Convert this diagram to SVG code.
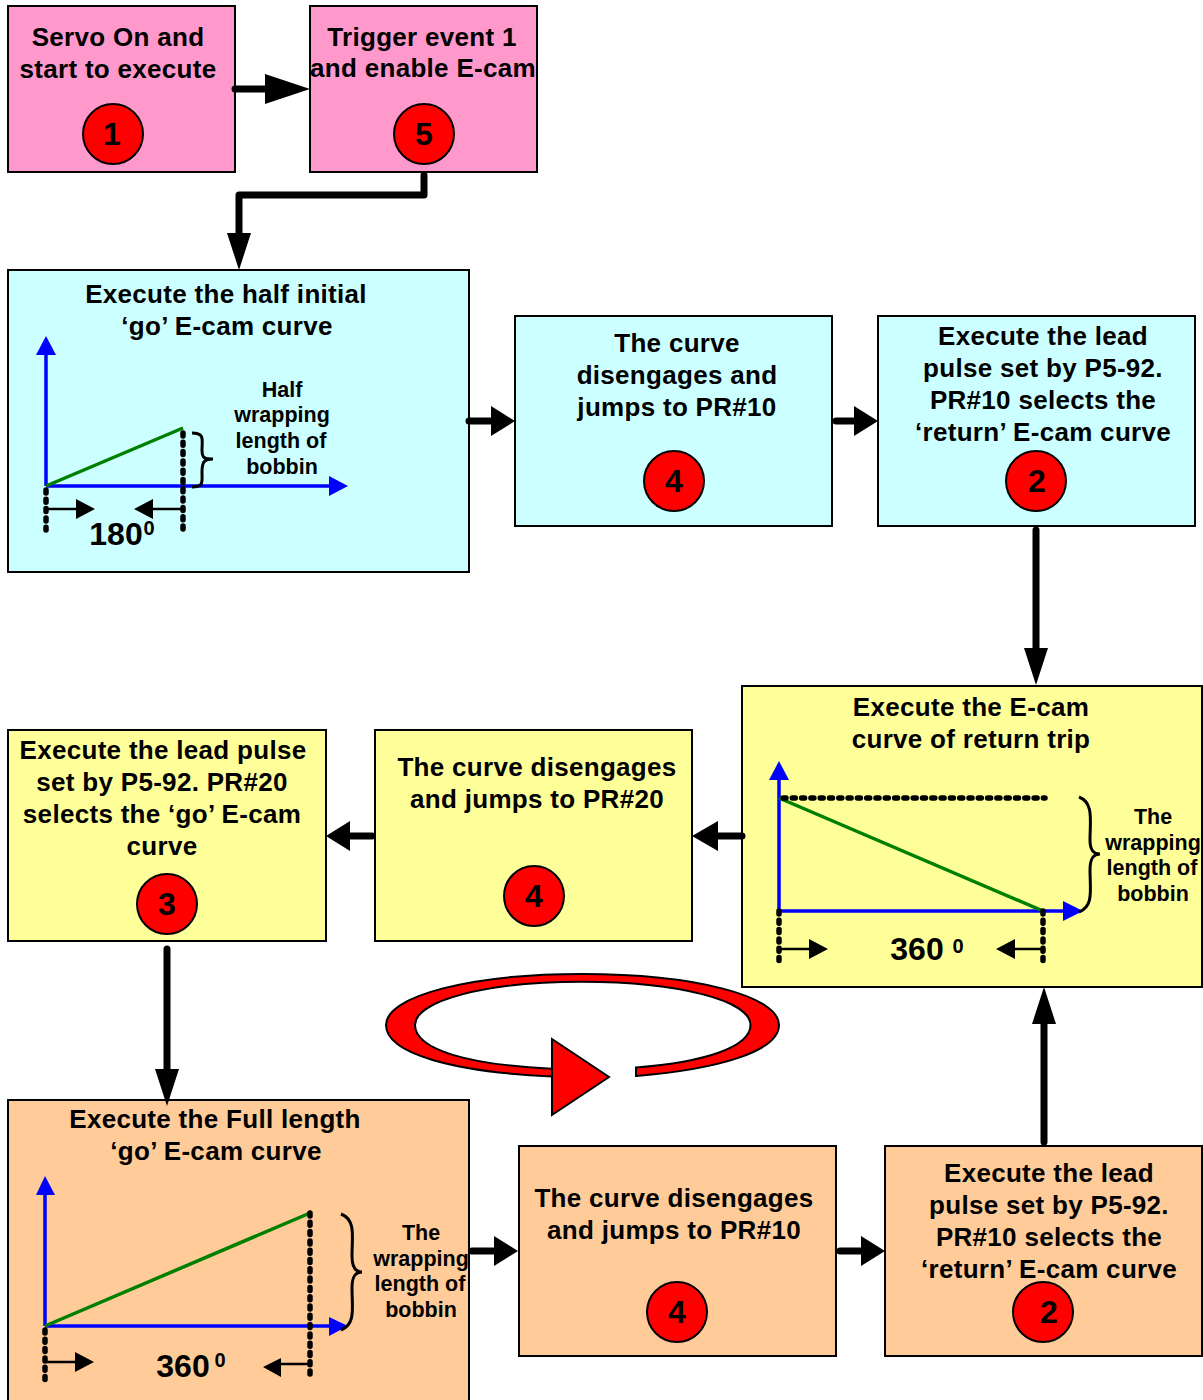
<svg xmlns="http://www.w3.org/2000/svg" width="1203" height="1400" viewBox="0 0 1203 1400">
<style>
text{font-family:"Liberation Sans",Arial,sans-serif;font-weight:700;fill:#000;text-anchor:middle}
.t{font-size:26px;letter-spacing:.3px}
.s{font-size:21.5px}
.n{font-size:32px}
.d{font-size:32px}
.sup{font-size:20px}
.box{stroke:#000;stroke-width:2}
.pink{fill:#ff99cc}.cyan{fill:#ccffff}.yel{fill:#ffff99}.org{fill:#ffcc99}
.c{fill:#ff0000;stroke:#000;stroke-width:2}
.conn{stroke:#000;stroke-width:7;fill:none;stroke-linecap:round;stroke-linejoin:round}
.ah{fill:#000;stroke:none}
.ax{stroke:#0000ff;stroke-width:3.5;fill:none}
.axh{fill:#0000ff;stroke:none}
.g{stroke:#008000;stroke-width:3.5;fill:none}
.dot{stroke:#000;stroke-width:5.5;fill:none;stroke-dasharray:3 6.3;stroke-linecap:round}
.thin{stroke:#000;stroke-width:2.5;fill:none}
.br{stroke:#000;stroke-width:3;fill:none}
</style>
<g id="n1"><rect class="box pink" x="8" y="6" width="227" height="166"/><text class="t" x="118" y="46">Servo On and</text><text class="t" x="118" y="78">start to execute</text><circle class="c" cx="113" cy="134" r="30"/><text class="n" x="112" y="145">1</text></g>
<g id="n5"><rect class="box pink" x="310" y="6" width="227" height="166"/><text class="t" x="422" y="46">Trigger event 1</text><text class="t" x="423" y="77">and enable E-cam</text><circle class="c" cx="424" cy="134" r="30"/><text class="n" x="424" y="145">5</text></g>
<g id="half"><rect class="box cyan" x="8" y="270" width="461" height="302"/><text class="t" x="226" y="303">Execute the half initial</text><text class="t" x="227" y="335">‘go’ E-cam curve</text>
<path class="ax" d="M46 486V350M46 486H335"/><polygon class="axh" points="46,336 36,355 56,355"/><polygon class="axh" points="348,486 329,476 329,496"/>
<path class="g" d="M46 486L183 428"/><path class="dot" d="M183 433V532M46 490V530"/>
<path class="br" d="M192 433C205 433 202 440 202 450C202 458 204 459 213 459C204 459 202 462 202 472C202 482 204 487 192 487"/>
<path class="thin" d="M46 509H78M183 509H150"/><polygon class="ah" points="95,509 76,499 76,519"/><polygon class="ah" points="134,509 153,499 153,519"/>
<text class="s" x="282" y="397">Half</text><text class="s" x="282" y="422">wrapping</text><text class="s" x="281" y="448">length of</text><text class="s" x="282" y="474">bobbin</text>
<text class="d" x="116" y="545">180</text><text class="sup" x="149" y="535">0</text></g>
<g id="c4a"><rect class="box cyan" x="515" y="316" width="317" height="210"/><text class="t" x="677" y="352">The curve</text><text class="t" x="677" y="384">disengages and</text><text class="t" x="677" y="416">jumps to PR#10</text><circle class="c" cx="674" cy="481" r="30"/><text class="n" x="674" y="492">4</text></g>
<g id="c2"><rect class="box cyan" x="878" y="316" width="317" height="210"/><text class="t" x="1043" y="345">Execute the lead</text><text class="t" x="1043" y="377">pulse set by P5-92.</text><text class="t" x="1043" y="409">PR#10 selects the</text><text class="t" x="1043" y="441">‘return’ E-cam curve</text><circle class="c" cx="1036" cy="481" r="30"/><text class="n" x="1037" y="492">2</text></g>
<g id="ret"><rect class="box yel" x="742" y="686" width="460" height="301"/><text class="t" x="971" y="716">Execute the E-cam</text><text class="t" x="971" y="748">curve of return trip</text>
<path class="ax" d="M779 911V775M779 911H1068"/><polygon class="axh" points="779,761 769,780 789,780"/><polygon class="axh" points="1083,911 1063,901 1063,921"/>
<path class="g" d="M779 798L1043 911"/><path class="dot" d="M783 798H1045M779 911V962M1043 911V964"/>
<path class="br" d="M1079 797C1094 803 1090 820 1090 840C1090 851 1094 854 1100 854C1094 854 1090 857 1090 870C1090 890 1094 906 1079 912"/>
<path class="thin" d="M779 949H812M1043 949H1012"/><polygon class="ah" points="828,949 809,939 809,959"/><polygon class="ah" points="996,949 1015,939 1015,959"/>
<text class="s" x="1153" y="824">The</text><text class="s" x="1153" y="850">wrapping</text><text class="s" x="1152" y="875">length of</text><text class="s" x="1153" y="901">bobbin</text>
<text class="d" x="917" y="960">360</text><text class="sup" x="958" y="953">0</text></g>
<g id="c4b"><rect class="box yel" x="375" y="730" width="317" height="211"/><text class="t" x="537" y="776">The curve disengages</text><text class="t" x="537" y="808">and jumps to PR#20</text><circle class="c" cx="534" cy="896" r="30"/><text class="n" x="534" y="907">4</text></g>
<g id="c3"><rect class="box yel" x="8" y="730" width="318" height="211"/><text class="t" x="163" y="759">Execute the lead pulse</text><text class="t" x="162" y="791">set by P5-92. PR#20</text><text class="t" x="162" y="823">selects the ‘go’ E-cam</text><text class="t" x="162" y="855">curve</text><circle class="c" cx="167" cy="904" r="30"/><text class="n" x="167" y="915">3</text></g>
<g id="full"><rect class="box org" x="8" y="1100" width="461" height="310"/><text class="t" x="215" y="1128">Execute the Full length</text><text class="t" x="216" y="1160">‘go’ E-cam curve</text>
<path class="ax" d="M45 1326V1190M45 1326H333"/><polygon class="axh" points="45,1176 36,1195 55,1195"/><polygon class="axh" points="348,1326 329,1317 329,1336"/>
<path class="g" d="M45 1326L310 1213"/><path class="dot" d="M310 1213V1380M45 1330V1382"/>
<path class="br" d="M341 1214C356 1220 352 1236 352 1256C352 1268 356 1272 362 1272C356 1272 352 1275 352 1288C352 1308 356 1324 341 1330"/>
<path class="thin" d="M46 1362H78M310 1364H276"/><polygon class="ah" points="94,1362 75,1352 75,1372"/><polygon class="ah" points="263,1367 281,1358 281,1377"/>
<text class="s" x="421" y="1240">The</text><text class="s" x="421" y="1266">wrapping</text><text class="s" x="420" y="1291">length of</text><text class="s" x="421" y="1317">bobbin</text>
<text class="d" x="183" y="1377">360</text><text class="sup" x="220" y="1367">0</text></g>
<g id="c4c"><rect class="box org" x="519" y="1146" width="317" height="210"/><text class="t" x="674" y="1207">The curve disengages</text><text class="t" x="674" y="1239">and jumps to PR#10</text><circle class="c" cx="677" cy="1312" r="30"/><text class="n" x="677" y="1323">4</text></g>
<g id="c2b"><rect class="box org" x="885" y="1146" width="317" height="210"/><text class="t" x="1049" y="1182">Execute the lead</text><text class="t" x="1049" y="1214">pulse set by P5-92.</text><text class="t" x="1049" y="1246">PR#10 selects the</text><text class="t" x="1049" y="1278">‘return’ E-cam curve</text><circle class="c" cx="1043" cy="1312" r="30"/><text class="n" x="1049" y="1323">2</text></g>
<g id="ring"><path d="M636 1076C720 1069 779 1051 779 1025C779 996 695 974 582 974C470 974 386 996 386 1025C386 1054 455 1072 552 1076.5V1039L609 1077L552 1115V1068.7C470 1065 415 1050 415 1025C415 1001 485 981.7 582 981.7C680 981.7 750.5 1001 750.5 1025C750.5 1047 705 1062 636 1067.5Z" fill="#ff0000" stroke="#000" stroke-width="2"/></g>
<g id="connectors">
<path class="conn" d="M235 89H272M424 175V195H239V236M469 421H496M836 421H860M1036 530V650M742 836H715M372 836H350M167 949V1072M472 1251H498M840 1251H865M1044 1142V1020"/>
<polygon class="ah" points="310,89 265,74 265,104"/><polygon class="ah" points="239,270 227,233 251,233"/><polygon class="ah" points="515,421 491,406 491,436"/><polygon class="ah" points="878,421 854,406 854,436"/><polygon class="ah" points="1036,685 1024,648 1048,648"/><polygon class="ah" points="692,836 718,821 718,851"/><polygon class="ah" points="326,836 350,821 350,851"/><polygon class="ah" points="167,1106 155,1069 179,1069"/><polygon class="ah" points="518,1251 494,1236 494,1266"/><polygon class="ah" points="885,1251 861,1236 861,1266"/><polygon class="ah" points="1044,987 1032,1024 1056,1024"/>
</g>
</svg>
